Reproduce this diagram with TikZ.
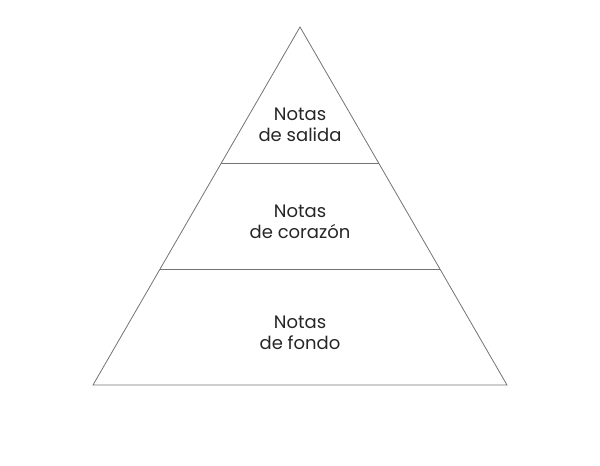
\documentclass[tikz,border=0pt]{standalone}
\usepackage{fontspec}
\setmainfont{Poppins}
\usepackage{tikz}
\usetikzlibrary{positioning, calc}

\begin{document}
\begin{tikzpicture}[x=0.75pt, y=-0.75pt]
        \useasboundingbox (0,0) rectangle (600,465);
        \tikzset{edge/.style={black!55, line width=0.6pt},
                 notes/.style={align=center, font=\fontsize{13.5}{15.5}\selectfont, text=black!85}}

        % Outline of the pyramid
        \coordinate (apex) at (300,27);
        \coordinate (baseL) at (93,385);
        \coordinate (baseR) at (507,385);
        \draw[edge] (apex) -- (baseR) -- (baseL) -- cycle;

        % Dividing lines between layers
        \coordinate (topL) at ($(apex)!0.380!(baseL)$);
        \coordinate (topR) at ($(apex)!0.380!(baseR)$);
        \coordinate (midL) at ($(apex)!0.676!(baseL)$);
        \coordinate (midR) at ($(apex)!0.676!(baseR)$);
        \draw[edge] (topL) -- (topR);
        \draw[edge] (midL) -- (midR);

        % Labels
        \node[notes] (salida) at (300,125) {Notas\\de salida};
        \node[notes] (corazon) at (300,222) {Notas\\de corazón};
        \node[notes] (fondo) at (300,333) {Notas\\de fondo};
    \end{tikzpicture}
\end{document}
